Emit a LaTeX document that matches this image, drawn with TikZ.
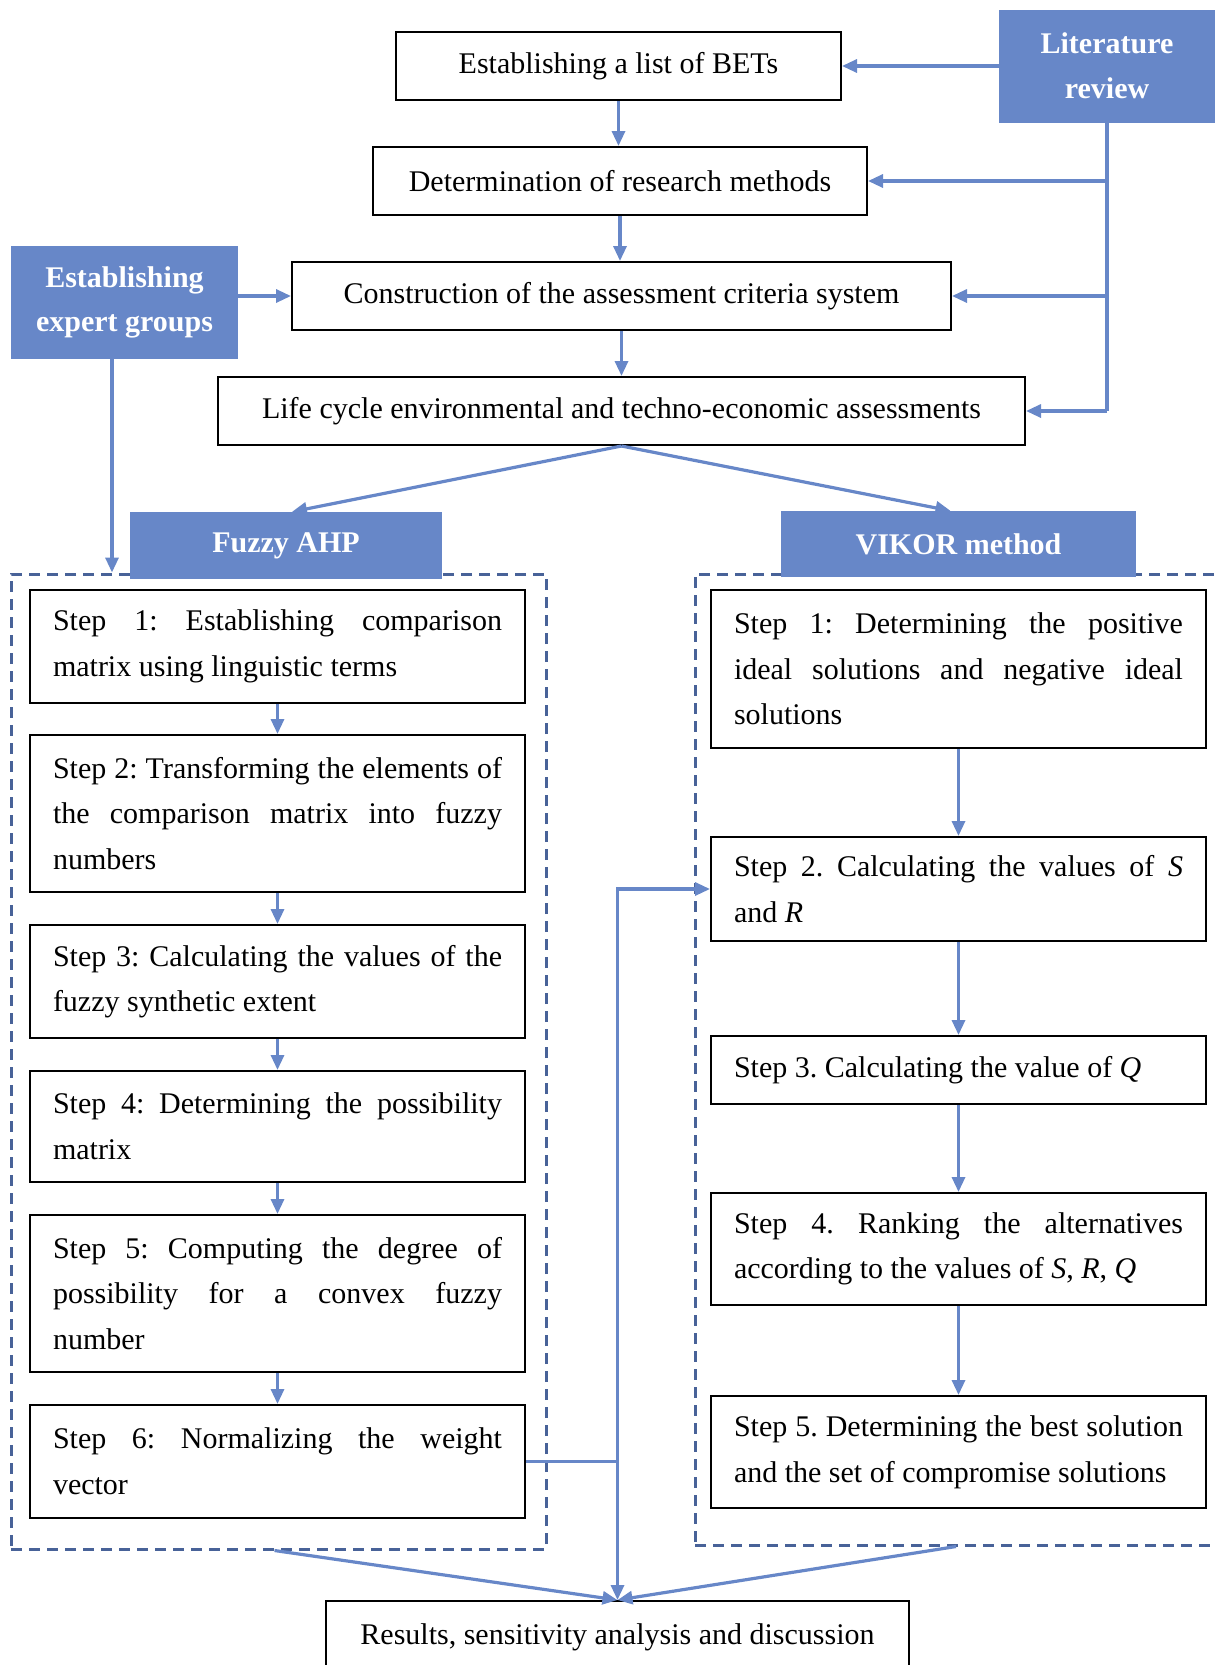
\documentclass[tikz,border=0pt]{standalone}
\usepackage{fontspec}
\setmainfont{Liberation Serif}
\usetikzlibrary{arrows.meta,positioning,calc}
\frenchspacing

\definecolor{flowblue}{RGB}{103,135,200}
\definecolor{dashblue}{RGB}{72,98,152}

\tikzset{
  txt/.style={font=\fontsize{30}{45.6}\selectfont},
  box/.style={txt,draw=black,line width=2pt,fill=white,align=center,inner sep=0pt},
  bluebox/.style={fill=flowblue,text=white,font=\fontsize{30}{44.6}\selectfont\bfseries,align=center,inner sep=0pt},
  stepbox/.style={txt,draw=black,line width=2pt,fill=white,text width=449pt,inner xsep=23pt,inner ysep=0pt,align=justify,minimum width=495pt},
  frame/.style={draw=dashblue,line width=3pt,dash pattern=on 11pt off 7pt,inner sep=0pt},
  link/.style={draw=flowblue,line width=3.2pt},
  arr/.style={link,-{Triangle[length=15pt,width=13pt]}}
}

\begin{document}
\begin{tikzpicture}[x=1pt,y=-1pt]
\useasboundingbox (0,0) rectangle (1215,1665);
\clip (0,0) rectangle (1215,1665);

% top part
\node[box,minimum width=445pt,minimum height=68pt] (bets) at (618.5,66) {Establishing a list of BETs};
\node[bluebox,minimum width=216pt,minimum height=113pt] (lit) at (1107,66) {Literature\\review};
\node[box,minimum width=494pt,minimum height=68pt] (meth) at (620,181) {Determination of research methods};
\node[box,minimum width=659pt,minimum height=68pt] (crit) at (621.5,296) {Construction of the assessment criteria system};
\node[bluebox,minimum width=227pt,minimum height=113pt] (expert) at (124.5,302.5) {Establishing\\expert groups};
\node[box,minimum width=807pt,minimum height=68pt] (lca) at (621.5,411) {Life cycle environmental and techno-economic assessments};

% dashed frames
\node[frame,minimum width=535pt,minimum height=975pt] (ahpframe) at (278.5,1061.5) {};
\node[frame,minimum width=530pt,minimum height=971pt] (vikframe) at (960,1059.5) {};

\node[bluebox,minimum width=312pt,minimum height=67pt] (fahp) at (286,545.5) {Fuzzy AHP};
\node[bluebox,minimum width=355pt,minimum height=66pt] (vikor) at (958.5,544) {VIKOR method};

% fuzzy AHP steps
\node[stepbox,minimum height=113pt] (ahp1) at (277.5,646.5) {Step 1: Establishing comparison\linebreak matrix using linguistic terms};
\node[stepbox,minimum height=157pt] (ahp2) at (277.5,813.5) {Step 2: Transforming the elements of\linebreak the comparison matrix into fuzzy\linebreak numbers};
\node[stepbox,minimum height=113pt] (ahp3) at (277.5,981.5) {Step 3: Calculating the values of the\linebreak fuzzy synthetic extent};
\node[stepbox,minimum height=111pt] (ahp4) at (277.5,1126.5) {Step 4: Determining the possibility\linebreak matrix};
\node[stepbox,minimum height=157pt] (ahp5) at (277.5,1293.5) {Step 5: Computing the degree of\linebreak possibility for a convex fuzzy\linebreak number};
\node[stepbox,minimum height=113pt] (ahp6) at (277.5,1461.5) {Step 6: Normalizing the weight\linebreak vector};

% VIKOR steps
\node[stepbox,minimum height=158pt] (vik1) at (958.5,669) {Step 1: Determining the positive\linebreak ideal solutions and negative ideal\linebreak solutions};
\node[stepbox,minimum height=104pt] (vik2) at (958.5,889) {Step 2. Calculating the values of \textit{S}\linebreak and \textit{R}};
\node[stepbox,minimum height=68pt] (vik3) at (958.5,1070) {Step 3. Calculating the value of \textit{Q}};
\node[stepbox,minimum height=112pt] (vik4) at (958.5,1249) {Step 4. Ranking the alternatives\linebreak according to the values of \textit{S}, \textit{R}, \textit{Q}};
\node[stepbox,minimum height=112pt] (vik5) at (958.5,1452) {Step 5. Determining the best solution\linebreak and the set of compromise solutions};

\node[box,minimum width=583pt,minimum height=72pt,anchor=north] (res) at (617.5,1600) {Results, sensitivity analysis and discussion};

% literature review links
\coordinate (litend) at (lit.south |- lca.east);
\draw[arr] (lit.west |- bets) -- (bets.east);
\draw[link] (lit.south) -- (litend);
\draw[arr] (lit.south |- meth.east) -- (meth.east);
\draw[arr] (lit.south |- crit.east) -- (crit.east);
\draw[arr] (litend) -- (lca.east);

\draw[arr] (bets) -- (meth.north -| bets);
\draw[arr] (meth) -- (crit.north -| meth);
\draw[arr] (crit) -- (lca);

% expert groups
\draw[arr] (expert.east |- crit) -- (crit.west);
\draw[arr] ([xshift=-12.5pt]expert.south) -- ([xshift=-12.5pt]expert.south |- ahpframe.north);

\draw[arr] (lca.south) -- ([xshift=6pt]fahp.north);
\draw[arr] (lca.south) -- ([xshift=-8pt]vikor.north);

\draw[arr] (ahp1) -- (ahp2);
\draw[arr] (ahp2) -- (ahp3);
\draw[arr] (ahp3) -- (ahp4);
\draw[arr] (ahp4) -- (ahp5);
\draw[arr] (ahp5) -- (ahp6);

\draw[arr] (vik1) -- (vik2);
\draw[arr] (vik2) -- (vik3);
\draw[arr] (vik3) -- (vik4);
\draw[arr] (vik4) -- (vik5);

% weights into VIKOR and results
\coordinate (join) at (res.north |- ahp6.east);
\draw[link] (ahp6.east) -- (join);
\draw[arr] (join) |- (vik2.west);
\draw[arr] (join) -- (res.north);
\draw[arr] ([xshift=-4pt]ahpframe.south) -- (res.north);
\draw[arr] ([xshift=-4pt]vikframe.south) -- (res.north);

\end{tikzpicture}
\end{document}
